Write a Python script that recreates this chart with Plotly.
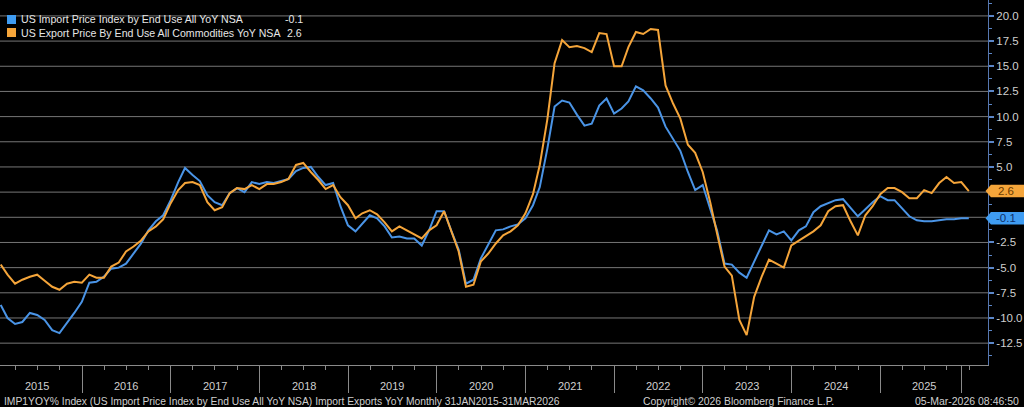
import pandas as pd
import plotly.graph_objects as go

# ---- data (monthly, Jan 2015 - Dec 2025) ----
dates = pd.date_range("2015-01-31", periods=132, freq="ME")

import_yoy = [
    -8.7, -10.0, -10.6, -10.4, -9.5, -9.7, -10.2, -11.2, -11.5, -10.5, -9.5, -8.4,   # 2015
    -6.5, -6.4, -5.9, -5.1, -5.0, -4.6, -3.6, -2.6, -1.3, -0.4, 0.2, 1.7,            # 2016
    3.5, 4.9, 4.2, 3.6, 2.2, 1.5, 1.2, 2.4, 2.9, 2.5, 3.5, 3.3,                      # 2017
    3.5, 3.4, 3.6, 3.8, 4.6, 4.9, 5.0, 4.0, 3.2, 3.4, 1.1, -0.8,                     # 2018
    -1.4, -0.6, 0.2, -0.1, -0.9, -2.0, -1.9, -2.1, -2.1, -2.8, -1.3, 0.6,            # 2019
    0.6, -1.3, -3.2, -6.6, -6.2, -4.1, -2.7, -1.3, -1.2, -0.9, -0.7, -0.1,           # 2020
    1.2, 3.0, 6.8, 11.0, 11.6, 11.4, 10.2, 9.1, 9.3, 11.1, 11.8, 10.3,               # 2021
    10.8, 11.5, 13.0, 12.6, 11.8, 10.9, 9.0, 7.8, 6.6, 4.5, 2.7, 3.2,                # 2022
    0.8, -1.3, -4.6, -4.7, -5.5, -6.0, -4.4, -2.9, -1.3, -1.7, -1.4, -2.3,           # 2023
    -1.3, -0.9, 0.5, 1.1, 1.4, 1.7, 1.8, 0.9, 0.1, 0.8, 1.5, 2.1,                    # 2024
    1.7, 1.7, 0.9, 0.1, -0.3, -0.4, -0.4, -0.3, -0.2, -0.2, -0.1, -0.1,              # 2025
]

export_yoy = [
    -4.7, -5.7, -6.6, -6.2, -5.9, -5.7, -6.3, -6.9, -7.2, -6.6, -6.4, -6.5,          # 2015
    -5.7, -6.0, -6.0, -4.9, -4.5, -3.4, -2.9, -2.3, -1.4, -0.9, -0.2, 1.4,           # 2016
    2.7, 3.4, 3.5, 3.2, 1.5, 0.7, 1.0, 2.4, 2.9, 2.8, 3.2, 2.8,                      # 2017
    3.3, 3.3, 3.5, 3.8, 5.2, 5.4, 4.5, 3.7, 2.8, 3.2, 2.0, 1.2,                      # 2018
    -0.1, 0.4, 0.7, 0.3, -0.5, -1.4, -0.9, -1.3, -1.7, -2.1, -1.3, -0.8,             # 2019
    0.6, -1.4, -3.4, -6.9, -6.7, -4.4, -3.6, -2.6, -1.8, -1.4, -0.8, 0.4,            # 2020
    2.3, 5.2, 9.7, 15.3, 17.6, 16.9, 17.0, 16.8, 16.4, 18.3, 18.2, 15.0,             # 2021
    15.0, 16.9, 18.4, 18.2, 18.7, 18.6, 13.1, 11.3, 9.8, 7.2, 6.4, 4.5,              # 2022
    1.5, -1.6, -4.9, -5.8, -10.2, -11.7, -7.9, -5.9, -4.2, -4.6, -5.0, -2.8,         # 2023
    -2.3, -1.9, -1.4, -0.8, 0.6, 1.1, 1.2, -0.4, -1.8, 0.2, 1.1, 2.3,                # 2024
    2.9, 2.9, 2.5, 1.9, 1.9, 2.7, 2.4, 3.4, 4.0, 3.4, 3.5, 2.6,                      # 2025
]

import_name = "US Import Price Index by End Use All YoY NSA"
export_name = "US Export Price By End Use All Commodities YoY NSA"
year_labels = [str(y) for y in range(2015, 2026)]
year_centers = ["2015-07-01"] + [f"{y}-07-01" for y in range(2016, 2026)]
year_bounds = [f"{y}-01-01" for y in range(2016, 2026)] + ["2025-12-01"]
y_ticks = [20.0, 17.5, 15.0, 12.5, 10.0, 7.5, 5.0, -2.5, -5.0, -7.5, -10.0, -12.5]

BLUE = "#4a94e6"
ORANGE = "#f5a53a"
TXT = "#cfcfcf"
GRID = "#767676"
FONT = "Arial, Liberation Sans, sans-serif"

fig = go.Figure()
fig.add_trace(go.Scatter(x=dates, y=import_yoy, mode="lines", name=import_name,
                         line=dict(color=BLUE, width=2)))
fig.add_trace(go.Scatter(x=dates, y=export_yoy, mode="lines", name=export_name,
                         line=dict(color=ORANGE, width=2)))

fig.update_layout(
    width=1024, height=407,
    paper_bgcolor="black", plot_bgcolor="black",
    margin=dict(l=0, r=36, t=0, b=42),
    showlegend=False,
    font=dict(family=FONT, color=TXT, size=11),
)

fig.update_xaxes(
    type="date", range=["2015-01-28", "2026-03-20"],
    showgrid=False, zeroline=False,
    showline=True, linecolor="#8a8a8a", linewidth=1,
    tickmode="array", tickvals=year_bounds, showticklabels=False,
    ticks="outside", ticklen=27, tickcolor="#8a8a8a", tickwidth=1,
    minor=dict(ticks="outside", dtick="M3", tick0="2015-01-01", ticklen=4,
               tickcolor="#8a8a8a", tickwidth=1, showgrid=False),
)

fig.update_yaxes(
    side="right", range=[-14.67, 21.58],
    tickmode="array", tickvals=y_ticks, ticktext=[f"{v:.1f}" for v in y_ticks],
    showgrid=False, zeroline=False,
    showline=True, linecolor="#5677b0", linewidth=1,
    ticks="outside", ticklen=5, tickwidth=2, tickcolor="#5b86c8",
    tickfont=dict(size=11.5, color=TXT),
    minor=dict(ticks="outside", dtick=1.25, tick0=0, ticklen=3,
               tickcolor="#5b86c8", tickwidth=1, showgrid=False),
)

# horizontal gridlines every 2.5
shapes = []
for v in [20.0, 17.5, 15.0, 12.5, 10.0, 7.5, 5.0, 2.5, 0.0, -2.5, -5.0, -7.5, -10.0, -12.5]:
    shapes.append(dict(type="line", xref="paper", yref="y", x0=0, x1=1, y0=v, y1=v,
                       line=dict(color=GRID, width=1), layer="below"))

# value tags on right axis
def tag(val, bg):
    h = 0.62
    return dict(type="path", xref="paper", yref="y", layer="above",
                path=(f"M 0.9975 {val} L 1.003 {val + h} L 1.04 {val + h} "
                      f"L 1.04 {val - h} L 1.003 {val - h} Z"),
                fillcolor=bg, line=dict(width=0))

last_imp = import_yoy[-1]
last_exp = export_yoy[-1]
shapes.append(tag(last_exp, ORANGE))
shapes.append(tag(last_imp, "#3f9cf2"))

# legend squares
shapes.append(dict(type="rect", xref="paper", yref="paper",
                   x0=7 / 988, x1=16 / 988, y0=(365 - 24) / 365, y1=(365 - 15) / 365,
                   fillcolor="#3f9cf2", line=dict(width=0)))
shapes.append(dict(type="rect", xref="paper", yref="paper",
                   x0=7 / 988, x1=16 / 988, y0=(365 - 37) / 365, y1=(365 - 28) / 365,
                   fillcolor=ORANGE, line=dict(width=0)))
fig.update_layout(shapes=shapes)

ann = []
ann.append(dict(xref="paper", yref="y", x=1.008, y=last_exp, text=f"{last_exp:.1f}",
                showarrow=False, xanchor="left", yanchor="middle",
                font=dict(size=11.5, color="#6a3a00")))
ann.append(dict(xref="paper", yref="y", x=1.006, y=last_imp, text=f"{last_imp:.1f}",
                showarrow=False, xanchor="left", yanchor="middle",
                font=dict(size=11.5, color="#0f2e66")))

# legend text
LEG = dict(size=10.6, color="#e6e6e6")
ann.append(dict(xref="paper", yref="paper", x=19 / 988, y=(365 - 19.5) / 365, text=import_name,
                showarrow=False, xanchor="left", yanchor="middle", font=LEG))
ann.append(dict(xref="paper", yref="paper", x=19 / 988, y=(365 - 33) / 365, text=export_name,
                showarrow=False, xanchor="left", yanchor="middle", font=LEG))
ann.append(dict(xref="paper", yref="paper", x=283 / 988, y=(365 - 19.5) / 365, text=f"{last_imp:.1f}",
                showarrow=False, xanchor="left", yanchor="middle", font=LEG))
ann.append(dict(xref="paper", yref="paper", x=285 / 988, y=(365 - 33) / 365, text=f"{last_exp:.1f}",
                showarrow=False, xanchor="left", yanchor="middle", font=LEG))

# year labels
for lab, xc in zip(year_labels, year_centers):
    ann.append(dict(xref="x", yref="paper", x=xc, y=(365 - 386) / 365, text=lab,
                    showarrow=False, xanchor="center", yanchor="middle",
                    font=dict(size=11, color=TXT)))

# footer
fy = (365 - 401) / 365
ann.append(dict(xref="paper", yref="paper", x=2 / 988, y=fy,
                text="IMP1YOY% Index (US Import Price Index by End Use All YoY NSA) Import Exports YoY Monthly 31JAN2015-31MAR2026",
                showarrow=False, xanchor="left", yanchor="middle", font=dict(size=10.3, color=TXT)))
ann.append(dict(xref="paper", yref="paper", x=641 / 988, y=fy,
                text="Copyright© 2026 Bloomberg Finance L.P.",
                showarrow=False, xanchor="left", yanchor="middle", font=dict(size=10.4, color=TXT)))
ann.append(dict(xref="paper", yref="paper", x=1021 / 988, y=fy,
                text="05-Mar-2026 08:46:50",
                showarrow=False, xanchor="right", yanchor="middle", font=dict(size=10.5, color=TXT)))
fig.update_layout(annotations=ann)

fig.write_html("out.html", config={"displayModeBar": False},
               post_script="document.body.style.margin='0';document.body.style.background='black';")
